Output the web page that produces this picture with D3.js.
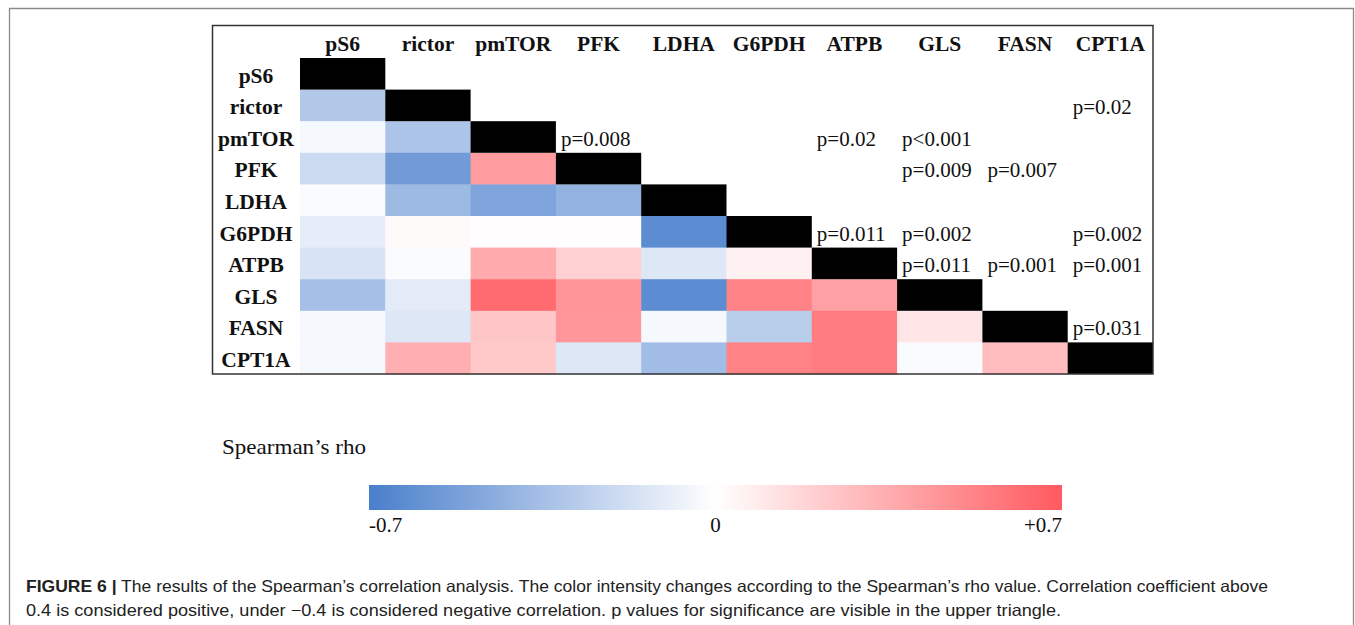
<!DOCTYPE html>
<html>
<head>
<meta charset="utf-8">
<script src="https://cdn.jsdelivr.net/npm/d3@7"></script>
<style>
  html, body { margin: 0; padding: 0; background: #fff; }
  svg { display: block; }
</style>
</head>
<body>
<svg id="chart" width="1355" height="625"></svg>
<script>
// ---- data ----
const labels = ["pS6", "rictor", "pmTOR", "PFK", "LDHA", "G6PDH", "ATPB", "GLS", "FASN", "CPT1A"];

// lower triangle Spearman's rho (row i, columns 0..i-1)
const rhoRows = [
  [],
  [-0.30],
  [-0.04, -0.32],
  [-0.20, -0.55, 0.42],
  [-0.02, -0.38, -0.50, -0.42],
  [-0.10, 0.02, 0.01, 0.01, -0.63],
  [-0.15, -0.02, 0.36, 0.20, -0.13, 0.06],
  [-0.35, -0.11, 0.63, 0.45, -0.63, 0.53, 0.40],
  [-0.04, -0.13, 0.24, 0.44, -0.04, -0.27, 0.55, 0.11],
  [-0.04, 0.34, 0.23, -0.13, -0.36, 0.53, 0.55, -0.02, 0.28]
];

// upper triangle p values: [row, column, text]
const pValues = [
  ["rictor", "CPT1A", "p=0.02"],
  ["pmTOR", "PFK", "p=0.008"],
  ["pmTOR", "ATPB", "p=0.02"],
  ["pmTOR", "GLS", "p<0.001"],
  ["PFK", "GLS", "p=0.009"],
  ["PFK", "FASN", "p=0.007"],
  ["G6PDH", "ATPB", "p=0.011"],
  ["G6PDH", "GLS", "p=0.002"],
  ["G6PDH", "CPT1A", "p=0.002"],
  ["ATPB", "GLS", "p=0.011"],
  ["ATPB", "FASN", "p=0.001"],
  ["ATPB", "CPT1A", "p=0.001"],
  ["FASN", "CPT1A", "p=0.031"]
];

const legendTitle = "Spearman\u2019s rho";
const legendTicks = [-0.7, 0, 0.7];
const legendTickLabels = ["-0.7", "0", "+0.7"];

const captionBold = "FIGURE 6 |";
const captionLine1 = " The results of the Spearman\u2019s correlation analysis. The color intensity changes according to the Spearman\u2019s rho value. Correlation coefficient above";
const captionLine2 = "0.4 is considered positive, under \u22120.4 is considered negative correlation. p values for significance are visible in the upper triangle.";

// ---- drawing ----
const svg = d3.select("#chart");
const serif = "'Liberation Serif', 'Times New Roman', serif";
const sans = "'Liberation Sans', Arial, Helvetica, sans-serif";

// outer figure frame (open at bottom)
svg.append("path")
  .attr("d", "M9.5,625 V8.5 H1353.5 V625")
  .attr("fill", "none")
  .attr("stroke", "#8a8a8a")
  .attr("stroke-width", 1.3);

const x = d3.scaleBand().domain(labels).range([300, 1153]).padding(0);
const y = d3.scaleBand().domain(labels).range([58, 374]).padding(0);

const color = d3.scaleLinear()
  .domain([-0.7, 0, 0.7])
  .range(["#4a7fcc", "#ffffff", "#ff5a5f"])
  .interpolate(d3.interpolateRgb)
  .clamp(true);

// cells
const cells = [];
rhoRows.forEach((row, i) => {
  row.forEach((v, j) => cells.push({ r: labels[i], c: labels[j], v }));
});

svg.append("g").selectAll("rect")
  .data(cells)
  .join("rect")
  .attr("x", d => x(d.c))
  .attr("y", d => y(d.r))
  .attr("width", x.bandwidth() + 0.5)
  .attr("height", y.bandwidth() + 0.5)
  .attr("fill", d => color(d.v));

// diagonal
svg.append("g").selectAll("rect")
  .data(labels)
  .join("rect")
  .attr("x", d => x(d))
  .attr("y", d => y(d))
  .attr("width", x.bandwidth())
  .attr("height", y.bandwidth())
  .attr("fill", "#000");

// column headers
svg.append("g").selectAll("text")
  .data(labels)
  .join("text")
  .attr("x", d => x(d) + x.bandwidth() / 2)
  .attr("y", 51)
  .attr("text-anchor", "middle")
  .attr("font-family", serif)
  .attr("font-weight", "bold")
  .attr("font-size", 21.5)
  .attr("fill", "#111")
  .text(d => d);

// row headers
svg.append("g").selectAll("text")
  .data(labels)
  .join("text")
  .attr("x", 256)
  .attr("y", d => y(d) + 24.5)
  .attr("text-anchor", "middle")
  .attr("font-family", serif)
  .attr("font-weight", "bold")
  .attr("font-size", 21.5)
  .attr("fill", "#111")
  .text(d => d);

// p values
svg.append("g").selectAll("text")
  .data(pValues)
  .join("text")
  .attr("x", d => x(d[1]) + 5)
  .attr("y", d => y(d[0]) + 24.5)
  .attr("font-family", serif)
  .attr("font-size", 21)
  .attr("fill", "#111")
  .text(d => d[2]);

// chart box
svg.append("rect")
  .attr("x", 212.5).attr("y", 25.5)
  .attr("width", 1153 - 212.5).attr("height", 374 - 25.5)
  .attr("fill", "none")
  .attr("stroke", "#333")
  .attr("stroke-width", 1.5);

// legend
svg.append("text")
  .attr("x", 222).attr("y", 454)
  .attr("font-family", serif)
  .attr("font-size", 22)
  .attr("fill", "#111")
  .attr("textLength", 144)
  .attr("lengthAdjust", "spacingAndGlyphs")
  .text(legendTitle);

const lx = d3.scaleLinear().domain([-0.7, 0.7]).range([369, 1062]);
const defs = svg.append("defs");
const grad = defs.append("linearGradient").attr("id", "rhoGrad")
  .attr("x1", "0%").attr("x2", "100%").attr("y1", "0%").attr("y2", "0%");
d3.range(0, 21).forEach(k => {
  const v = -0.7 + k * 0.07;
  grad.append("stop")
    .attr("offset", (k / 20 * 100) + "%")
    .attr("stop-color", color(v));
});
svg.append("rect")
  .attr("x", lx(-0.7)).attr("y", 485)
  .attr("width", lx(0.7) - lx(-0.7)).attr("height", 25)
  .attr("fill", "url(#rhoGrad)");

svg.append("g").selectAll("text")
  .data(legendTicks)
  .join("text")
  .attr("x", d => lx(d))
  .attr("y", 532)
  .attr("text-anchor", (d, i) => i === 0 ? "start" : (i === legendTicks.length - 1 ? "end" : "middle"))
  .attr("font-family", serif)
  .attr("font-size", 21)
  .attr("fill", "#111")
  .text((d, i) => legendTickLabels[i]);

// caption
const cap1 = svg.append("text")
  .attr("x", 26).attr("y", 592)
  .attr("font-family", sans)
  .attr("font-size", 16.5)
  .attr("fill", "#222")
  .attr("textLength", 1242)
  .attr("lengthAdjust", "spacingAndGlyphs");
cap1.append("tspan").attr("font-weight", "bold").text(captionBold);
cap1.append("tspan").text(captionLine1);

svg.append("text")
  .attr("x", 26).attr("y", 616)
  .attr("font-family", sans)
  .attr("font-size", 16.5)
  .attr("fill", "#222")
  .attr("textLength", 1035)
  .attr("lengthAdjust", "spacingAndGlyphs")
  .text(captionLine2);
</script>
</body>
</html>
